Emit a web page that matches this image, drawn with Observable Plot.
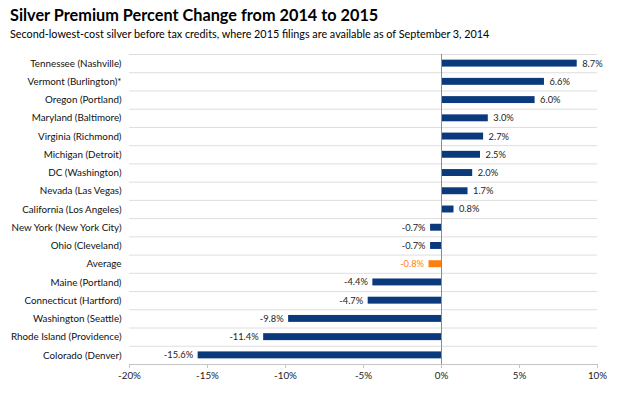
<!DOCTYPE html>
<html><head><meta charset="utf-8">
<script src="https://cdn.jsdelivr.net/npm/d3@7"></script>
<script src="https://cdn.jsdelivr.net/npm/@observablehq/plot@0.6"></script>
<style>
body{margin:0;background:#fff;font-family:Lato,"Open Sans",sans-serif;}
#t{position:absolute;left:10px;top:5.5px;font-size:17.5px;line-height:1;font-weight:bold;color:#000;white-space:nowrap;transform:scaleX(0.93);transform-origin:0 0;}
#s{position:absolute;left:10px;top:28.4px;font-size:12px;line-height:1;color:#000;white-space:nowrap;transform:scaleX(0.9);transform-origin:0 0;}
#c{position:absolute;left:0;top:50px;}
</style></head><body>
<div id="t">Silver Premium Percent Change from 2014 to 2015</div>
<div id="s">Second-lowest-cost silver before tax credits, where 2015 filings are available as of September 3, 2014</div>
<div id="c"></div>
<script>
const categories = ["Tennessee (Nashville)","Vermont (Burlington)*","Oregon (Portland)","Maryland (Baltimore)","Virginia (Richmond)","Michigan (Detroit)","DC (Washington)","Nevada (Las Vegas)","California (Los Angeles)","New York (New York City)","Ohio (Cleveland)","Average","Maine (Portland)","Connecticut (Hartford)","Washington (Seattle)","Rhode Island (Providence)","Colorado (Denver)"];
const values = [8.7,6.6,6.0,3.0,2.7,2.5,2.0,1.7,0.8,-0.7,-0.7,-0.8,-4.4,-4.7,-9.8,-11.4,-15.6];
const xTicks = [-20,-15,-10,-5,0,5,10];

const navy = "#0a3a7c", orange = "#ff7f0e";
const data = categories.map((c,i)=>({c, i, v: values[i], avg: c==="Average"}));
const n = categories.length;
const bounds = d3.range(0, n).map(i=>i-0.5);
const half = 0.19;
const pos = data.filter(d=>d.v>=0), neg = data.filter(d=>d.v<0);

const chart = Plot.plot({
  width: 617, height: 344,
  marginTop: 4, marginBottom: 30, marginLeft: 129, marginRight: 20,
  style: {fontFamily: "Lato, 'Open Sans', sans-serif", fontSize: "10px", color: "#333", background: "#fff"},
  x: {domain: [-20, 10], label: null},
  y: {domain: [n-0.5, -0.5], axis: null},
  marks: [
    Plot.ruleY(bounds, {stroke: "#dedede", strokeWidth: 1}),
    Plot.rect(data, {x1: 0, x2: "v", y1: d=>d.i-half, y2: d=>d.i+half, fill: d=>d.avg?orange:navy}),
    Plot.ruleX([0], {stroke: "#8c8c8c", strokeWidth: 1}),
    Plot.ruleY([n-0.5], {stroke: "#c4c4c4", strokeWidth: 1}),
    Plot.axisX({ticks: xTicks, tickFormat: d=>d+"%", tickSize: 4, stroke: "#c4c4c4", tickPadding: 4, fontSize: 9.8, fill: "#222", label: null}),
    Plot.text(pos, {x: "v", y: "i", text: d=>d.v.toFixed(1)+"%", textAnchor: "start", dx: 5, fill: d=>d.avg?orange:"#222", fontSize: 9.3}),
    Plot.text(neg, {x: "v", y: "i", text: d=>d.v.toFixed(1)+"%", textAnchor: "end", dx: -5, fill: d=>d.avg?orange:"#222", fontSize: 9.3}),
    Plot.text(data, {x: -20, y: "i", text: "c", textAnchor: "end", dx: -8, fill: "#111", fontSize: 9.8})
  ]
});
document.getElementById("c").appendChild(chart);
</script>
</body></html>
